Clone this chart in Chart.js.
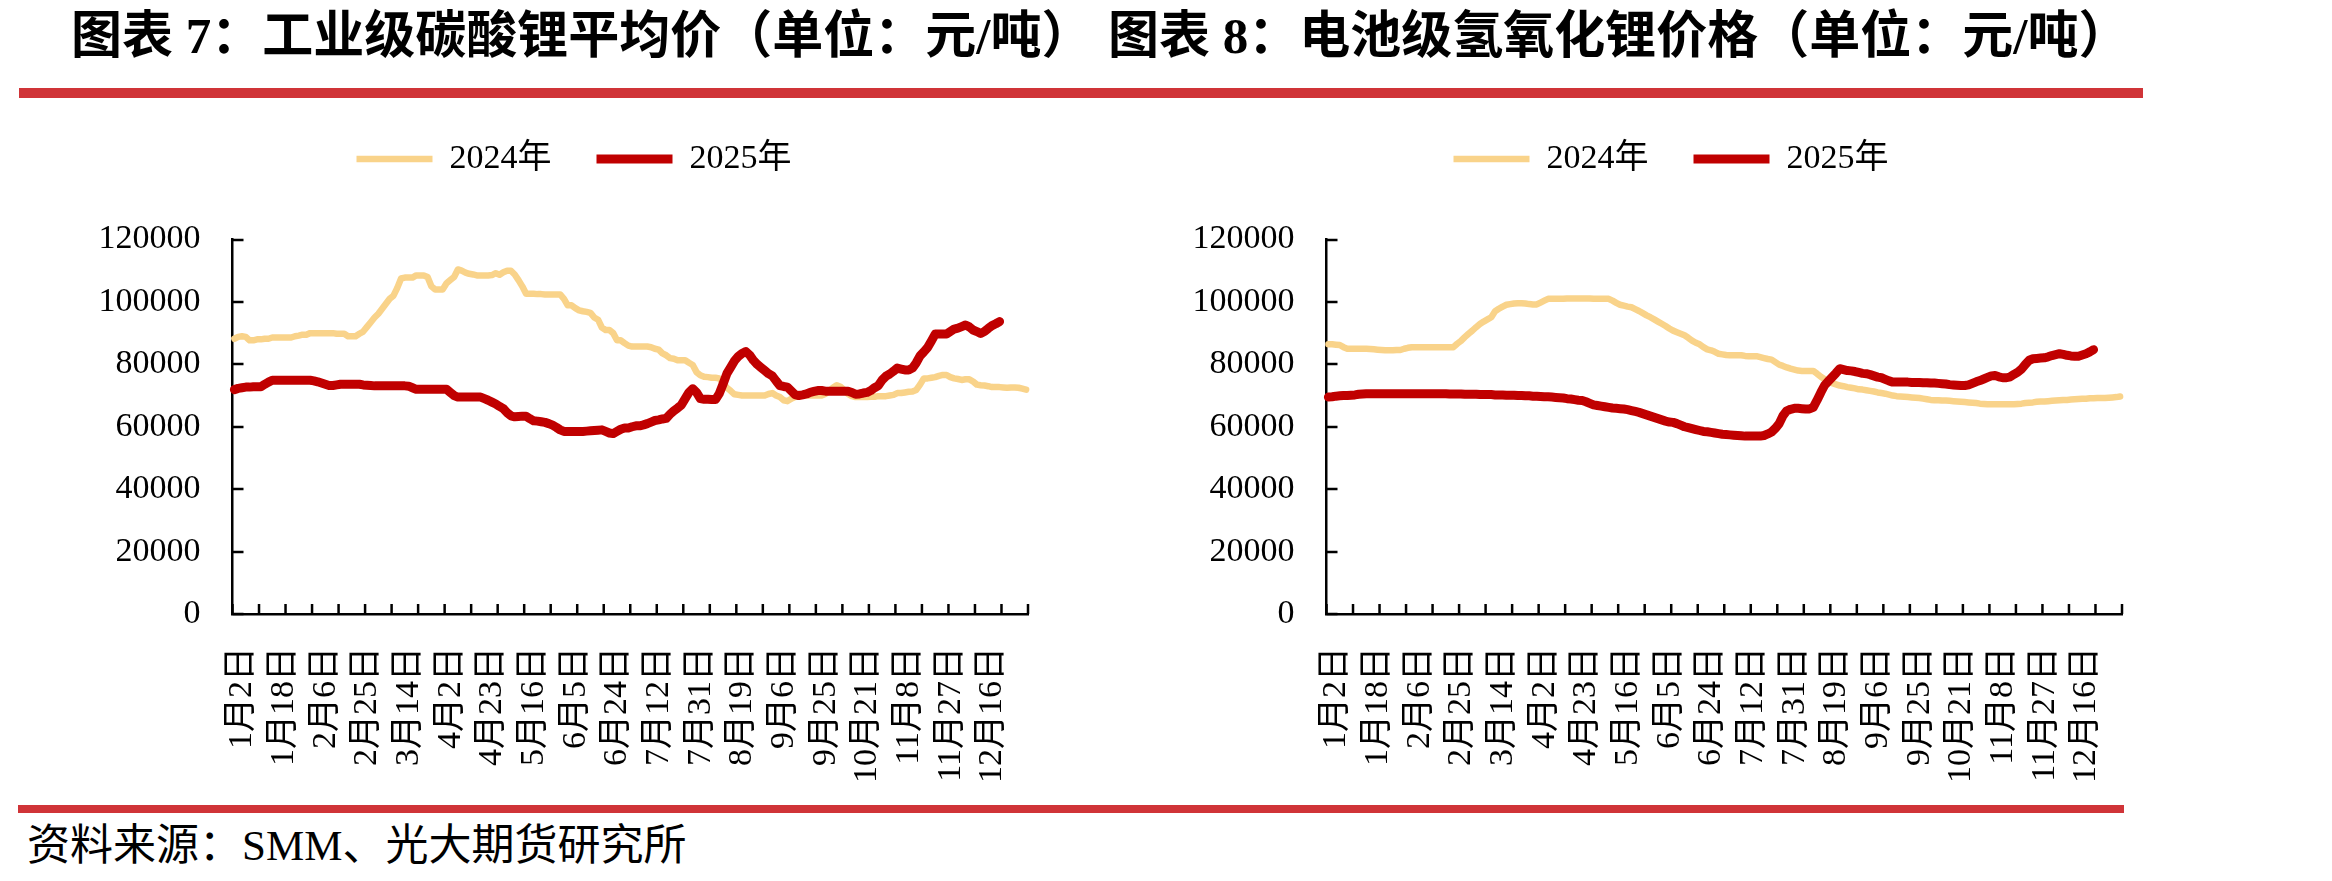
<!DOCTYPE html>
<html><head><meta charset="utf-8">
<script src="https://cdn.jsdelivr.net/npm/chart.js@4.4.1/dist/chart.umd.min.js"></script>
<style>
html,body{margin:0;padding:0;background:#fff;}
#page{position:relative;width:2332px;height:881px;overflow:hidden;background:#fff;}
.title{position:absolute;top:8px;font-family:'Liberation Serif','Noto Sans CJK SC',serif;font-weight:700;font-size:51px;line-height:56px;color:#000;white-space:nowrap;}
.bar{position:absolute;background:#D03438;}
.foot{position:absolute;left:27px;top:820px;font-family:'Liberation Serif','Noto Sans CJK SC',serif;font-size:43px;line-height:52px;color:#000;white-space:nowrap;}
canvas{position:absolute;top:0;}
</style></head>
<body><div id="page">
<div class="title" style="left:71px">图表 7：工业级碳酸锂平均价（单位：元/吨）</div>
<div class="title" style="left:1108px">图表 8：电池级氢氧化锂价格（单位：元/吨）</div>
<div class="bar" style="left:19px;top:88px;width:2124px;height:10px"></div>
<div class="bar" style="left:18px;top:805px;width:2106px;height:8px"></div>
<div class="foot">资料来源：SMM、光大期货研究所</div>
<canvas id="c1" width="1148" height="800" style="left:0px"></canvas>
<canvas id="c2" width="1142" height="800" style="left:1100px"></canvas>
</div>
<script>
const tickLabels = ['1月2日','1月18日','2月6日','2月25日','3月14日','4月2日','4月23日','5月16日','6月5日','6月24日','7月12日','7月31日','8月19日','9月6日','9月25日','10月21日','11月8日','11月27日','12月16日'];
const seriesNames = ['2024年','2025年'];
const yTickValues = [0,20000,40000,60000,80000,100000,120000];

const carbonate2024 = [
88200,88800,89000,88800,87700,87700,88000,88000,88200,88200,
88600,88600,88600,88600,88600,88600,89000,89200,89500,89500,
90000,90000,90000,90000,90000,90000,90000,89800,89800,89800,
89000,89000,89000,89800,90500,92000,93500,95000,96200,97800,
99400,101000,102000,104500,107500,107800,107800,107800,108500,108500,
108500,108000,105000,104000,104000,104000,106000,107000,108000,110400,
110000,109400,109000,108800,108500,108500,108500,108500,108600,109200,
108700,109500,110000,110000,108800,107000,105000,102600,102600,102600,
102500,102500,102400,102400,102400,102400,102400,101000,98900,98900,
98000,97300,97000,96800,96500,95000,94300,91800,91000,91000,
90000,87700,87700,86800,86000,85700,85700,85700,85700,85700,
85500,85000,84700,83500,82900,82000,81800,81300,81300,81300,
80500,79800,77500,76500,76000,75900,75700,75700,75500,74000,
72500,71500,70400,70200,70000,70000,70000,70000,70000,70000,
70000,70500,70800,70000,69500,68500,68200,69000,69500,69800,
70000,70000,70000,70000,70000,70000,70500,71500,72500,73300,
72800,71800,70500,69800,69500,69500,69500,69500,69600,69600,
69800,69800,69800,70000,70200,70800,70800,71000,71200,71300,
71800,73500,75500,75500,75700,75900,76300,76600,76600,75900,
75500,75300,75000,75200,75200,74500,73500,73300,73200,73000,
72700,72700,72700,72600,72500,72600,72600,72500,72200,71900];

const carbonate2025 = [
71900,72300,72500,72700,72700,72800,72800,72800,73600,74300,
74900,74900,74900,74900,74900,74900,74900,74900,74900,74900,
74900,74700,74400,74000,73600,73200,73200,73400,73600,73600,
73600,73600,73600,73600,73400,73300,73200,73100,73100,73100,
73100,73100,73100,73100,73100,73100,73000,72500,72000,72000,
72000,72000,72000,72000,72000,72000,72000,71000,70000,69500,
69500,69500,69500,69500,69500,69500,69000,68500,67900,67300,
66500,65800,64500,63500,63200,63300,63400,63400,62600,61900,
61800,61600,61400,61000,60500,59800,59000,58500,58500,58500,
58500,58500,58500,58600,58700,58800,58900,59000,58500,58000,
57800,58500,59200,59600,59600,60000,60300,60300,60600,61000,
61500,62000,62200,62500,62700,64000,65100,66000,67000,69000,
71000,72200,71000,69000,68800,68800,68700,68700,70600,73700,
77000,79000,81100,82500,83500,84100,83000,81300,80000,79000,
78000,77000,76300,74700,73200,72900,72700,71500,70300,70000,
70200,70500,71000,71300,71600,71600,71400,71400,71400,71400,
71400,71400,71400,71000,70400,70500,70800,71000,71600,72500,
73200,75000,76200,76900,77800,78800,78500,78200,78200,78800,
80500,82700,84000,85400,87500,89700,89700,89700,89700,90500,
91300,91600,92100,92600,92000,91000,90500,89900,90500,91500,
92400,93000,93700];

const hydroxide2024 = [
86400,86400,86300,86200,85500,85000,85000,85000,85000,85000,
85000,84900,84800,84700,84600,84500,84500,84500,84600,84600,
85000,85300,85500,85500,85500,85500,85500,85500,85500,85500,
85500,85500,85500,85500,86600,87500,88700,89800,90800,91900,
92900,93700,94400,95100,97000,97800,98500,99100,99300,99500,
99600,99600,99500,99300,99200,99200,99800,100400,101000,101000,
101000,101000,101000,101100,101100,101100,101100,101100,101100,101100,
101000,101000,101000,101000,101000,100400,99700,99100,98800,98500,
98300,97700,97100,96400,95700,95100,94400,93700,93000,92300,
91500,90800,90300,89800,89300,88500,87600,86900,86400,85500,
84800,84500,84000,83400,83200,83000,82900,82900,82900,82900,
82700,82600,82600,82600,82300,82000,81700,81500,80700,79900,
79500,79000,78600,78300,78000,77900,77900,77900,77900,77000,
76000,75200,74600,74000,73600,73200,73000,72700,72500,72300,
72000,71900,71700,71500,71300,71000,70800,70600,70300,70000,
69800,69700,69600,69500,69400,69300,69200,69000,68800,68600,
68500,68500,68400,68400,68300,68200,68100,68000,67900,67800,
67700,67600,67400,67300,67200,67200,67200,67200,67200,67200,
67200,67200,67300,67400,67600,67700,67800,68000,68100,68100,
68200,68300,68400,68500,68600,68600,68700,68800,68900,69000,
69000,69100,69100,69200,69200,69200,69300,69400,69500,69700];

const hydroxide2025 = [
69500,69600,69800,69900,70000,70000,70100,70200,70400,70500,
70600,70600,70600,70600,70600,70600,70600,70600,70600,70600,
70600,70600,70600,70600,70600,70600,70600,70600,70600,70600,
70600,70600,70500,70500,70500,70500,70400,70400,70400,70400,
70300,70300,70300,70300,70200,70200,70200,70100,70100,70100,
70000,70000,69900,69900,69800,69800,69700,69600,69600,69500,
69400,69300,69200,69000,68900,68700,68500,68400,68000,67500,
67000,66800,66600,66400,66200,66000,65900,65800,65700,65500,
65200,64900,64600,64200,63800,63400,63000,62600,62200,61800,
61500,61400,61000,60500,60000,59700,59400,59100,58800,58500,
58400,58200,58000,57800,57600,57500,57400,57300,57200,57100,
57000,57000,57000,57000,57000,57200,57700,58300,59500,61000,
63500,65100,65600,65900,65900,65800,65700,65700,66200,68500,
71000,73300,74600,75900,77200,78600,78300,78000,77900,77700,
77400,77100,77000,76700,76300,75900,75700,75200,74700,74300,
74300,74300,74300,74300,74200,74200,74200,74100,74100,74000,
74000,73900,73800,73700,73500,73400,73300,73200,73200,73400,
73900,74400,74800,75300,75800,76300,76400,76000,75700,75700,
76000,76800,77500,78500,80000,81300,81800,81900,82000,82100,
82400,82800,83100,83400,83200,82900,82700,82600,82600,83000,
83400,84000,84700];

const LABEL_EVERY = 11;   // one date label every 11 categories
const TICK_EVERY = 7;     // one tick mark every 7 categories
const FONT = {family: "'Liberation Serif', 'Noto Sans CJK SC', serif", size: 34};
const COLOR24 = '#F9D38A', COLOR25 = '#C00000';

const innerTicks = {
  id: 'innerTicks',
  beforeDatasetsDraw(chart) {
    const {ctx, chartArea: a, scales: {x, y}} = chart;
    ctx.save();
    ctx.strokeStyle = '#000';
    ctx.lineWidth = 2.5;
    ctx.beginPath();
    y.ticks.forEach(t => {
      const py = Math.round(y.getPixelForValue(t.value));
      ctx.moveTo(a.left, py); ctx.lineTo(a.left + 11, py);
    });
    const n = chart.data.labels.length;
    const half = (x.getPixelForValue(1) - x.getPixelForValue(0)) / 2;
    for (let i = 0; i <= n; i += TICK_EVERY) {
      const px = i < n ? x.getPixelForValue(i) - half : x.getPixelForValue(n - 1) + half;
      ctx.moveTo(px, a.bottom); ctx.lineTo(px, a.bottom - 10);
    }
    ctx.stroke();
    ctx.restore();
  }
};

const legendShift = {
  id: 'legendShift',
  afterLayout(chart, args, opts) {
    const lg = chart.legend;
    if (!lg) return;
    const center = lg.top + lg.options.labels.padding + FONT.size / 2;
    const d = center - opts.centerY;
    lg.top -= d; lg.bottom -= d;
  }
};

function makeChart(id, d24, d25, yAxisWidth, plotRightPad) {
  const labels = d24.map((_, i) => i % LABEL_EVERY === 0 ? (tickLabels[i / LABEL_EVERY] || '') : '');
  return new Chart(document.getElementById(id), {
    type: 'line',
    data: {
      labels,
      datasets: [
        {label: seriesNames[0], data: d24, borderColor: COLOR24, backgroundColor: COLOR24, borderWidth: 6.5, order: 2},
        {label: seriesNames[1], data: d25, borderColor: COLOR25, backgroundColor: COLOR25, borderWidth: 9, order: 1}
      ]
    },
    options: {
      responsive: false,
      animation: false,
      devicePixelRatio: 1,
      layout: {padding: 0},
      elements: {
        point: {radius: 0, hoverRadius: 0},
        line: {tension: 0, borderJoinStyle: 'round', borderCapStyle: 'round', fill: false}
      },
      plugins: {
        tooltip: {enabled: false},
        legendShift: {centerY: 159},
        legend: {
          position: 'top', align: 'center',
          labels: {
            usePointStyle: true, pointStyle: 'line', pointStyleWidth: 76, boxWidth: 76,
            padding: 45, color: '#000', font: FONT,
            sort: (a, b) => a.datasetIndex - b.datasetIndex
          }
        }
      },
      scales: {
        x: {
          type: 'category', offset: true,
          grid: {display: false, drawTicks: false},
          border: {display: true, color: '#000', width: 2.5},
          ticks: {
            autoSkip: false, maxRotation: 90, minRotation: 90, padding: 33, labelOffset: 8,
            color: '#000', font: FONT,
            callback: function (v) { const l = this.getLabelForValue(v); return l === '' ? null : l; }
          },
          afterFit: s => { s.height = 186; s.paddingLeft = 0; s.paddingRight = plotRightPad; }
        },
        y: {
          min: 0, max: 120000,
          afterBuildTicks: s => { s.ticks = yTickValues.map(v => ({value: v})); },
          grid: {display: false, drawTicks: false},
          border: {display: true, color: '#000', width: 2.5},
          ticks: {padding: 32, color: '#000', font: FONT, callback: v => String(v)},
          afterFit: s => { s.width = yAxisWidth; s.paddingTop = 239.5; }
        }
      }
    },
    plugins: [innerTicks, legendShift]
  });
}

makeChart('c1', carbonate2024, carbonate2025, 232.5, 120);
makeChart('c2', hydroxide2024, hydroxide2025, 226.5, 120);
</script>
</body></html>
